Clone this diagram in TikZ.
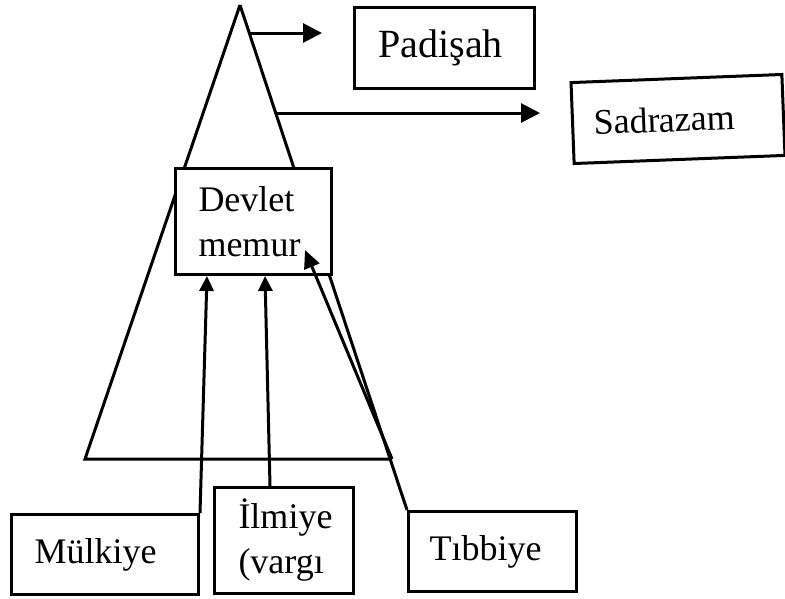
\documentclass[tikz,border=0pt]{standalone}
\usepackage{fontspec}
\setmainfont{Liberation Serif}
\usetikzlibrary{arrows.meta}
\begin{document}
\begin{tikzpicture}[x=1pt,y=-1pt,line width=3pt,line join=miter,
  box/.style={draw,fill=white,rectangle,inner ysep=0pt,align=left,
    font=\fontsize{36}{45}\selectfont},
  arr/.style={-{Triangle[length=15pt,width=14pt]}},
  midarr/.style={-{Triangle[length=18pt,width=16pt]}},
  bigarr/.style={-{Triangle[length=19pt,width=19pt]}}]
\useasboundingbox (0,0) rectangle (785,598);
% bottom boxes
\node[box,anchor=north west,minimum height=80pt,text width=141pt,inner xsep=23pt] (mulkiye) at (10,513) {Mülkiye};
\node[box,anchor=north west,minimum height=106pt,text width=91pt,inner xsep=24pt] (ilmiye) at (213,486) {İlmiye\\(vargı};
\node[box,anchor=north west,minimum height=80pt,text width=126pt,inner xsep=21pt] (tibbiye) at (407,510) {Tıbbiye};
% top boxes
\node[box,anchor=north west,minimum height=81pt,text width=132pt,inner xsep=24pt,
  font=\fontsize{40}{45}\selectfont] (padisah) at (353,6) {Padişah};
\node[box,rotate=2.2,minimum height=81pt,text width=169pt,inner xsep=21pt] (sadrazam) at (678,119) {Sadrazam};
% triangle
\coordinate (apex) at (240,5);
\coordinate (bl) at (85,459);
\coordinate (br) at (392,459);
\draw (apex) -- (bl) -- (br);
\draw (apex) -- (tibbiye.north west);
% central box
\node[box,anchor=north west,minimum height=106pt,text width=110pt,inner xsep=23pt] (devlet) at (174,167) {Devlet\\memur};
% arrows to the right
\coordinate (p0) at (249,33);
\coordinate (p1) at (322,33);
\coordinate (s0) at (275,113);
\coordinate (s1) at (540,113);
\draw[bigarr] (p0) -- (p1);
\draw[bigarr] (s0) -- (s1);
% arrows upward
\coordinate (m1) at (207,276);
\coordinate (i0) at (270,486);
\coordinate (i1) at (265,276);
\coordinate (t1) at (305,250);
\draw[arr] (mulkiye.north east) -- (m1);
\draw[arr] (i0) -- (i1);
\draw[midarr] (br) -- (t1);
\end{tikzpicture}
\end{document}
